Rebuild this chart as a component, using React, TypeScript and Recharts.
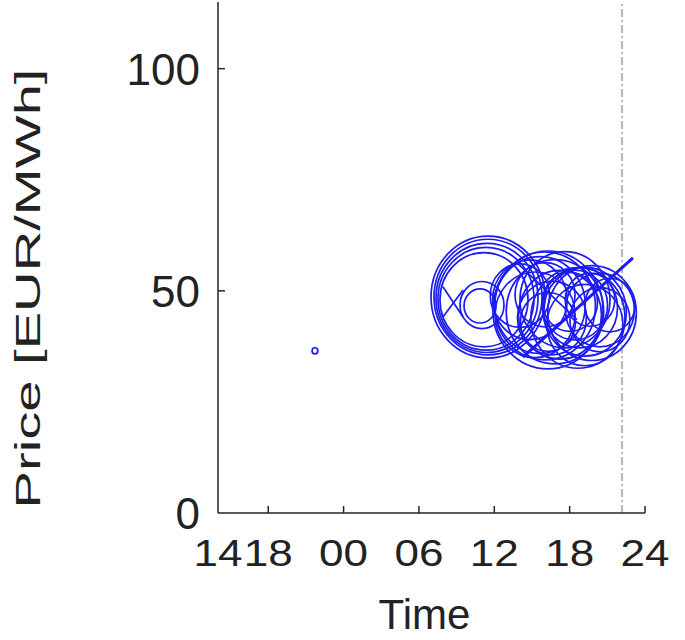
import React from 'react';
import { ScatterChart, Scatter, XAxis, YAxis, ZAxis, ReferenceLine } from 'recharts';

// time in hours since midnight of the previous day (14 = 14:00 day before, 48 = 24:00)
const xTicks = [14, 18, 24, 30, 36, 42, 48];
const xTickLabels = ['14', '18', '00', '06', '12', '18', '24'];
const yTicks = [0, 50, 100];

// bids: hour, price, volume
const bidHours = [
  21.72,
  35.5, 35.5, 35.42, 35.34, 35.18, 34.86, 35.02,
  40.27, 40.04, 39.64, 40.83, 41.23, 40.59, 40.27, 38.84, 38.04,
  39.24, 41.63, 40.04,
  43.78, 43.22, 42.82, 42.42, 42.03, 42.66, 44.41, 43.62,
  44.41, 43.22, 45.21,
];
const bidPrices = [
  36.5,
  48.6, 48.6, 48.4, 48.2, 48.0, 46.6, 46.8,
  45.7, 46.6, 46.8, 45.3, 44.6, 43.9, 43.0, 48.0, 48.9,
  44.6, 48.0, 49.1,
  45.0, 45.3, 46.2, 46.8, 47.5, 43.9, 45.7, 48.0,
  43.5, 42.3, 46.8,
];
const bidVolumes = [
  2,
  793, 712, 635, 563, 473, 62, 118,
  740, 620, 500, 580, 420, 290, 185, 340, 215,
  391, 494, 220,
  480, 420, 345, 260, 185, 540, 290, 150,
  220, 353, 153,
];

// price path segments
const segA = { hours: [37.81, 42.58], prices: [56.3, 43.5] };
const segB = { hours: [47.04, 38.28], prices: [57.4, 35.1] };
const segC = { hours: [31.91, 33.51], prices: [50.9, 44.1] };
const segD = { hours: [31.91, 33.51], prices: [44.1, 50.2] };

const gateClosure = 46.17;

const BLUE = '#1c1cf0';
const AXIS = '#262626';

const bids = bidHours.map((h, i) => ({ hour: h, price: bidPrices[i], volume: bidVolumes[i] }));
const toPts = (s: { hours: number[]; prices: number[] }) =>
  s.hours.map((h, i) => ({ hour: h, price: s.prices[i] }));

const Bubble = (props: any) => {
  const { cx, cy, width } = props;
  const r = Math.max(width / 2, 2.5);
  return <ellipse cx={cx} cy={cy} rx={r} ry={r * 1.07} fill="none" stroke={BLUE} strokeWidth={1.7} />;
};

const NoDot = () => <g />;

const XTick = (props: any) => {
  const { x, y, payload, index } = props;
  const label = xTickLabels[xTicks.indexOf(payload.value)] ?? xTickLabels[index];
  return (
    <g>
      {index > 0 && <line x1={x} x2={x} y1={y} y2={y - 7} stroke={AXIS} strokeWidth={1.5} />}
      <text
        transform={`translate(${x},${y + 53}) scale(1,0.84)`}
        textAnchor="middle"
        fontSize={44}
        fill="#222"
        fontFamily="'Liberation Sans', Arial, sans-serif"
      >
        {label}
      </text>
    </g>
  );
};

const YTick = (props: any) => {
  const { x, y, payload, index } = props;
  return (
    <g>
      {index > 0 && <line x1={x} x2={x + 7} y1={y} y2={y} stroke={AXIS} strokeWidth={1.5} />}
      <text
        x={x - 18}
        y={y + 16}
        textAnchor="end"
        fontSize={44}
        fill="#222"
        fontFamily="'Liberation Sans', Arial, sans-serif"
      >
        {payload.value}
      </text>
    </g>
  );
};

export default function App() {
  return (
    <div style={{ position: 'absolute', left: 0, top: 0, background: '#fff' }}>
      <ScatterChart width={685} height={640} margin={{ top: 2, right: 40, bottom: 0, left: 0 }}>
        <XAxis
          type="number"
          dataKey="hour"
          domain={[14, 48]}
          ticks={xTicks}
          interval={0}
          height={127}
          tickSize={0}
          tickMargin={0}
          tickLine={false}
          axisLine={{ stroke: AXIS, strokeWidth: 1.5 }}
          tick={<XTick />}
          allowDataOverflow
          label={{
            content: (p: any) => {
              const vb = p.viewBox;
              return (
                <text
                  x={vb.x + vb.width / 2 - 7}
                  y={vb.y + 116}
                  textAnchor="middle"
                  fontSize={42}
                  fill="#222"
                  fontFamily="'Liberation Sans', Arial, sans-serif"
                >
                  Time
                </text>
              );
            },
          }}
        />
        <YAxis
          type="number"
          dataKey="price"
          domain={[0, 115]}
          ticks={yTicks}
          width={218}
          tickSize={0}
          tickMargin={0}
          tickLine={false}
          axisLine={{ stroke: AXIS, strokeWidth: 1.5 }}
          tick={<YTick />}
          allowDataOverflow
          label={{
            content: (p: any) => {
              const vb = p.viewBox;
              const cy = vb.y + vb.height / 2 + 31;
              return (
                <text
                  transform={`translate(40,${cy}) rotate(-90)`}
                  textAnchor="middle"
                  fontSize={35}
                  fill="#222"
                  textLength={440}
                  lengthAdjust="spacingAndGlyphs"
                  fontFamily="'Liberation Sans', Arial, sans-serif"
                >
                  Price [EUR/MWh]
                </text>
              );
            },
          }}
        />
        <ZAxis type="number" dataKey="volume" domain={[0, 1000]} range={[0, 12868]} />
        <ReferenceLine x={gateClosure} stroke="#b8b8b8" strokeWidth={2} strokeDasharray="8 3 2 3" />
        <Scatter data={bids} shape={<Bubble />} isAnimationActive={false} />
        {[segA, segB, segC, segD].map((s, i) => (
          <Scatter
            key={i}
            data={toPts(s)}
            shape={<NoDot />}
            line={{ stroke: BLUE, strokeWidth: i === 1 ? 3 : 1.7 }}
            isAnimationActive={false}
          />
        ))}
      </ScatterChart>
    </div>
  );
}
